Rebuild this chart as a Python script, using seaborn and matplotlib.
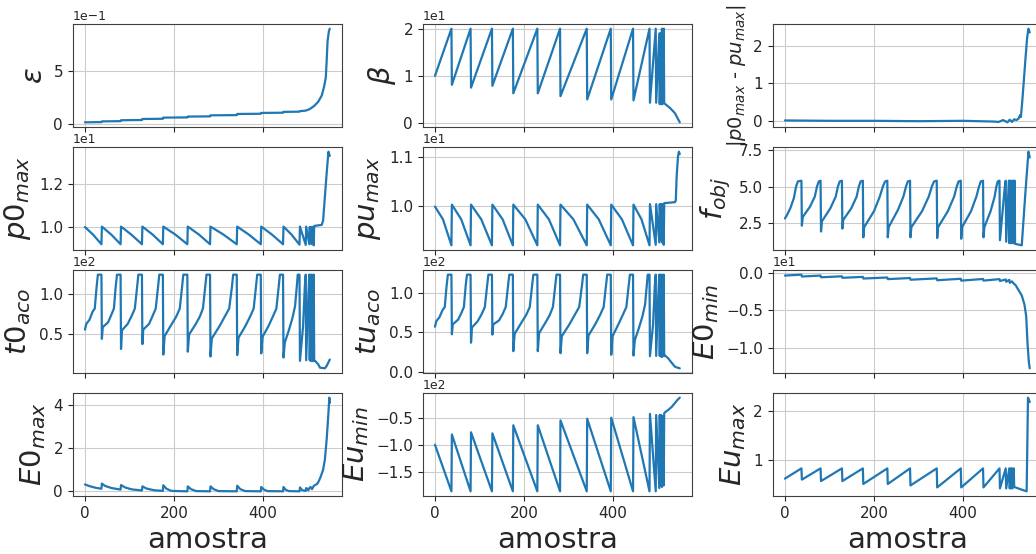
import matplotlib
matplotlib.use("Agg")
import matplotlib.pyplot as plt
import seaborn as sns

# ---------------- data ----------------
samples_label = "amostra"

eps_x = [0, 37, 38, 80, 81, 128, 129, 175, 176, 230, 231, 281, 282, 341, 342, 395, 396, 445, 446, 482,
         483, 496, 505, 515, 524, 532, 537, 541, 543, 545, 548, 550]
eps_y = [0.013, 0.015, 0.022, 0.024, 0.033, 0.035, 0.045, 0.047, 0.058, 0.06, 0.068, 0.07, 0.08, 0.082,
         0.093, 0.095, 0.103, 0.105, 0.113, 0.115, 0.12, 0.125, 0.14, 0.17, 0.21, 0.27, 0.35, 0.44, 0.6,
         0.79, 0.886, 0.91]

beta_x = [0, 37, 38, 80, 81, 128, 129, 175, 176, 230, 231, 281, 282, 341, 342, 395, 396, 445, 446, 482,
          483, 496, 497, 504, 505, 507, 508, 510, 511, 514, 515, 528, 539, 550]
beta_y = [10, 20, 8.1, 20, 7.5, 20, 7.9, 20, 6.3, 20, 6.3, 20, 5.7, 20, 5.0, 20, 5.0, 20, 4.8, 20,
          4.3, 20, 4.3, 19, 4.0, 19, 4.0, 20, 4.0, 20, 4.2, 3.2, 2.1, 0.15]

dp_x = [0, 100, 200, 300, 400, 470, 480, 490, 500, 505, 510, 515, 520, 525, 528, 530, 533, 536, 540,
        544, 547, 550]
dp_y = [0.01, 0.0, 0.0, -0.01, 0.0, -0.02, -0.03, 0.02, -0.04, 0.03, -0.03, 0.04, 0.02, 0.06, 0.15, 0.1,
        0.5, 0.96, 1.6, 2.2, 2.45, 2.35]

p0_x = [0, 18, 37, 38, 59, 80, 81, 104, 128, 129, 152, 175, 176, 203, 230, 231, 256, 281, 282, 311, 341,
        342, 368, 395, 396, 420, 445, 446, 464, 482, 483, 496, 497, 504, 505, 507, 508, 510, 511, 514,
        515, 532, 535, 539, 543, 547, 550]
p0_y = [10.0, 9.65, 9.2, 10.02, 9.65, 9.2, 10.02, 9.65, 9.2, 10.02, 9.65, 9.2, 10.02, 9.65, 9.2, 10.02,
        9.65, 9.2, 10.02, 9.65, 9.2, 10.02, 9.65, 9.2, 10.02, 9.65, 9.2, 10.02, 9.65, 9.18, 10.02, 9.17,
        10.02, 9.2, 10.0, 9.25, 10.0, 9.2, 10.0, 9.15, 10.05, 10.1, 10.3, 11.4, 12.5, 13.5, 13.3]

pu_x = p0_x[:41] + [539, 541, 543, 546, 548, 550]
pu_y = [9.98, 9.72, 9.19, 10.02, 9.72, 9.19, 10.02, 9.72, 9.19, 10.02, 9.72, 9.19, 10.02, 9.72, 9.19,
        10.02, 9.72, 9.19, 10.02, 9.72, 9.19, 10.02, 9.72, 9.19, 10.02, 9.72, 9.19, 10.02, 9.72, 9.19,
        10.03, 9.2, 10.03, 9.25, 10.03, 9.3, 10.03, 9.25, 10.03, 9.2, 10.05,
        10.07, 10.1, 10.6, 11.0, 11.1, 11.05]

fobj_x = [0, 4, 12, 20, 25, 29, 37, 38, 40, 56, 67, 72, 76, 80, 81, 83, 102, 114, 119, 123, 128,
          129, 131, 149, 161, 166, 170, 175, 176, 178, 200, 213, 220, 225, 230,
          231, 233, 254, 266, 272, 276, 281, 282, 284, 308, 323, 330, 335, 341,
          342, 344, 366, 380, 386, 390, 395, 396, 398, 418, 430, 436, 440, 445,
          446, 448, 462, 471, 475, 478, 482,
          483, 494, 496, 497, 503, 504, 506, 507, 509, 510, 513, 514, 516, 517, 525, 532, 540, 547, 550]
fobj_y = [2.8, 3.0, 3.5, 4.2, 5.0, 5.35, 5.4, 2.3, 2.9, 3.6, 4.3, 5.0, 5.35, 5.4, 1.9, 2.6, 3.5, 4.3, 5.0, 5.35, 5.4,
          2.1, 2.7, 3.5, 4.3, 5.0, 5.35, 5.4, 1.5, 2.2, 3.3, 4.3, 5.0, 5.35, 5.4,
          1.5, 2.2, 3.4, 4.3, 5.0, 5.35, 5.4, 1.5, 2.2, 3.3, 4.3, 5.0, 5.35, 5.4,
          1.45, 2.2, 3.3, 4.3, 5.0, 5.35, 5.4, 1.4, 2.2, 3.3, 4.3, 5.0, 5.35, 5.4,
          1.5, 2.2, 3.3, 4.3, 5.0, 5.35, 5.4,
          1.3, 5.0, 5.4, 1.2, 5.4, 1.1, 5.4, 1.1, 5.4, 1.1, 5.4, 1.1, 5.4, 1.05, 1.0, 0.95, 4.5, 7.4, 7.0]

aco_x = [0, 3, 10, 17, 22, 26, 29, 37,
         38, 40, 52, 59, 65, 69, 72, 80,
         81, 83, 96, 105, 112, 117, 120, 128,
         129, 131, 144, 152, 159, 164, 167, 175,
         176, 179, 194, 205, 213, 218, 221, 230,
         231, 234, 248, 258, 265, 270, 273, 281,
         282, 285, 302, 314, 324, 330, 333, 341,
         342, 345, 360, 371, 379, 384, 387, 395,
         396, 399, 412, 422, 430, 435, 438, 445,
         446, 449, 458, 466, 472, 476, 478, 482,
         483, 490, 494, 496, 497, 502, 504, 505, 507, 508, 510, 511, 514, 515,
         517, 524, 528, 539, 543, 550]
t0_y = [56, 63, 68, 78, 82, 108, 124, 124,
        44.5, 59, 65, 74, 82, 109, 124, 124,
        32, 55, 63, 73, 82, 108, 124, 124,
        38, 56, 63, 73, 82, 108, 124, 124,
        25, 48, 62, 72, 82, 108, 124, 124,
        28.6, 50, 62, 72, 82, 108, 124, 124,
        22.7, 45, 60, 72, 82, 108, 124, 124,
        24.4, 46, 60, 72, 82, 108, 124, 124,
        26.5, 47, 60, 72, 82, 108, 124, 124,
        21.4, 40, 55, 70, 85, 110, 124, 124,
        17.2, 60, 110, 124, 18, 100, 124, 18, 124, 17, 124, 17, 124, 17,
        17.2, 13, 8.8, 8, 10.9, 18.9]
tu_y = [57, 64, 69, 78, 82, 108, 123, 123,
        47.4, 60, 66, 74, 82, 109, 123, 123,
        36.8, 56, 64, 73, 82, 108, 123, 123,
        47, 60, 65, 73, 82, 108, 123, 123,
        26, 48, 62, 72, 82, 108, 123, 123,
        26, 49, 62, 72, 82, 108, 123, 123,
        23.5, 45, 60, 72, 82, 108, 123, 123,
        23.5, 46, 60, 72, 82, 108, 123, 123,
        21.4, 45, 60, 72, 82, 108, 123, 123,
        20.5, 40, 55, 70, 85, 110, 123, 123,
        19.7, 60, 110, 123, 20, 100, 123, 20, 123, 19, 123, 19, 123, 20,
        20.5, 17, 14, 6.4, 5.5, 4.3]

e0min_x = [0, 37, 38, 80, 81, 128, 129, 175, 176, 230, 231, 281, 282, 341, 342, 395, 396, 445, 446, 482,
           483, 496, 497, 504, 505, 510, 514, 518, 525, 532, 538, 542, 545, 548, 550]
e0min_y = [-0.32, -0.2, -0.45, -0.32, -0.55, -0.42, -0.62, -0.5, -0.72, -0.58, -0.8, -0.65, -0.88, -0.7,
           -0.95, -0.75, -1.0, -0.78, -1.0, -0.8, -1.05, -0.85, -1.15, -0.9, -1.3, -1.1, -1.4, -1.6, -2.3,
           -3.0, -4.2, -5.8, -9.5, -12.0, -12.8]

e0max_x = [0, 10, 25, 37, 38, 45, 60, 80, 81, 90, 105, 128, 129, 138, 155, 175, 176, 183, 194, 230,
           231, 238, 250, 281, 282, 289, 300, 341, 342, 349, 360, 395, 396, 402, 410, 445, 446, 451, 458, 482,
           483, 488, 496, 497, 502, 504, 507, 510, 514, 518, 522, 526, 530, 535, 539, 543, 547, 549, 550]
e0max_y = [0.32, 0.24, 0.16, 0.12, 0.36, 0.25, 0.15, 0.08, 0.29, 0.18, 0.09, 0.04, 0.23, 0.13, 0.05, 0.02,
           0.28, 0.12, 0.02, 0.0, 0.23, 0.1, 0.01, 0.0, 0.23, 0.1, 0.01, 0.0, 0.26, 0.1, 0.01, 0.0,
           0.2, 0.08, 0.01, 0.0, 0.2, 0.07, 0.01, 0.0,
           0.18, 0.05, 0.02, 0.15, 0.05, 0.15, 0.2, 0.1, 0.25, 0.3, 0.35, 0.5, 0.7, 1.0, 1.47, 2.4, 3.64,
           4.34, 4.1]

eumin_x = [0, 37, 38, 80, 81, 128, 129, 175, 176, 230, 231, 281, 282, 341, 342, 395, 396, 445, 446, 482,
           483, 496, 497, 504, 505, 507, 508, 510, 511, 514, 515, 517, 525, 532, 540, 545, 550]
eumin_y = [-100, -186, -81, -186, -77, -186, -79, -186, -64, -186, -64, -186, -55, -186, -52, -186, -50,
           -186, -49, -186, -43, -186, -45, -180, -45, -175, -45, -178, -47, -175, -42, -40, -35, -30, -22,
           -17, -13]

eumax_x = [0, 37, 38, 80, 81, 128, 129, 175, 176, 230, 231, 281, 282, 341, 342, 395, 396, 445, 446, 482,
           483, 496, 497, 504, 505, 507, 508, 510, 511, 514, 515, 530, 543, 546, 550]
eumax_y = [0.62, 0.83, 0.6, 0.83, 0.57, 0.83, 0.57, 0.83, 0.51, 0.83, 0.51, 0.83, 0.48, 0.83, 0.44, 0.83,
           0.44, 0.83, 0.44, 0.83, 0.42, 0.83, 0.42, 0.83, 0.42, 0.83, 0.42, 0.83, 0.42, 0.83, 0.45, 0.4,
           0.36, 2.28, 2.19]

labels = [r"$\varepsilon$", r"$\beta$", r"$|p0_{max}$ - $pu_{max}|$",
          r"$p0_{max}$", r"$pu_{max}$", r"$f_{obj}$",
          r"$t0_{aco}$", r"$tu_{aco}$", r"$E0_{min}$",
          r"$E0_{max}$", r"$Eu_{min}$", r"$Eu_{max}$"]

series = [(eps_x, eps_y), (beta_x, beta_y), (dp_x, dp_y),
          (p0_x, p0_y), (pu_x, pu_y), (fobj_x, fobj_y),
          (aco_x, t0_y), (aco_x, tu_y), (e0min_x, e0min_y),
          (e0max_x, e0max_y), (eumin_x, eumin_y), (eumax_x, eumax_y)]

# ---------------- plot ----------------
sns.set_style("ticks", {"axes.grid": True, "grid.color": ".8", "axes.edgecolor": ".25"})
plt.rcParams["font.family"] = ["DejaVu Sans"]
plt.rcParams["mathtext.fontset"] = "dejavusans"

fig, axes = plt.subplots(4, 3, sharex=True, figsize=(10.36, 5.54), dpi=100)
fig.subplots_adjust(left=0.0702, right=1.0058, bottom=0.1047, top=0.9567,
                    wspace=0.2997, hspace=0.194)

for i, (ax, (xs, ys), lab) in enumerate(zip(axes.flat, series, labels)):
    sns.lineplot(x=xs, y=ys, ax=ax, color="#1f77b4", linewidth=1.6,
                 sort=False, estimator=None)
    ax.set_ylabel(lab, fontsize=14 if i == 2 else 21)
    ax.ticklabel_format(axis="y", style="sci", scilimits=(0, 0))
    ax.yaxis.get_offset_text().set_fontsize(9)
    ax.tick_params(labelsize=11)
    ax.set_xlabel("")

for ax in axes[-1]:
    ax.set_xlabel(samples_label, fontsize=21)

fig.savefig("out.png", dpi=100)
